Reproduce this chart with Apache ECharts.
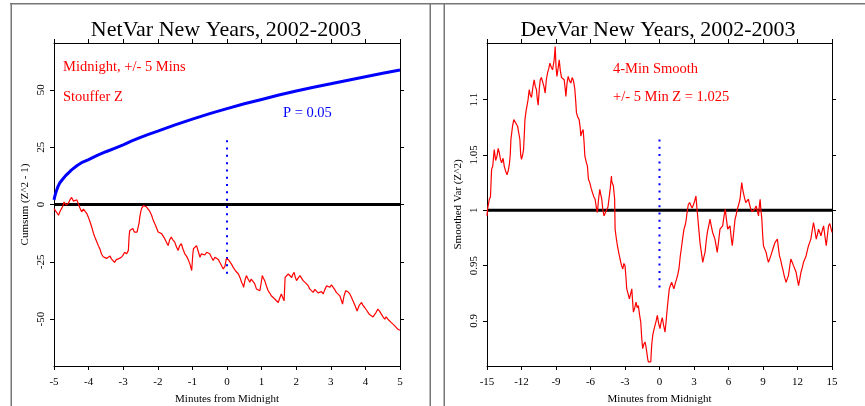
<!DOCTYPE html>
<html><head><meta charset="utf-8">
<script src="https://cdn.jsdelivr.net/npm/echarts@6/dist/echarts.min.js"></script>
<style>html,body{margin:0;padding:0;background:#fff}#c{width:865px;height:406px}</style>
</head><body><div id="c"></div>
<script>
// ---- Left panel (NetVar cumsum) ----
const leftXTicks = [-5,-4,-3,-2,-1,0,1,2,3,4,5];
const leftYTicks = [-50,-25,0,25,50];
const cumsumRed = [
[-5,-1.8],[-4.97,-1.8],[-4.92,-3.5],[-4.87,-4.7],[-4.83,-3.2],[-4.78,-2.5],[-4.74,-0.5],[-4.71,1.1],[-4.65,-0.2],[-4.59,0.4],[-4.54,2.0],[-4.49,3.1],[-4.44,1.5],[-4.39,1.1],[-4.34,2.0],[-4.30,0.4],[-4.25,-1.5],[-4.20,-3.2],[-4.15,-2.0],[-4.10,-2.5],[-4.05,-4.0],[-4.01,-5.4],[-3.96,-7.5],[-3.91,-9.8],[-3.86,-12.5],[-3.82,-14.2],[-3.77,-16.0],[-3.72,-17.9],[-3.67,-19.5],[-3.63,-21.5],[-3.58,-22.8],[-3.53,-22.2],[-3.48,-23.5],[-3.43,-23.0],[-3.38,-22.5],[-3.34,-23.7],[-3.30,-24.5],[-3.25,-25.2],[-3.20,-24.0],[-3.14,-23.7],[-3.10,-24.2],[-3.05,-23.0],[-3.00,-22.0],[-2.96,-20.8],[-2.90,-21.5],[-2.85,-20.0],[-2.83,-14.0],[-2.81,-11.3],[-2.76,-11.0],[-2.72,-10.5],[-2.68,-12.0],[-2.64,-12.7],[-2.60,-12.0],[-2.56,-11.3],[-2.54,-8.0],[-2.52,-5.4],[-2.49,-3.0],[-2.47,-1.8],[-2.42,-0.5],[-2.38,-0.3],[-2.33,-1.0],[-2.28,-1.8],[-2.23,-3.0],[-2.18,-4.7],[-2.14,-6.5],[-2.09,-8.3],[-2.04,-10.0],[-1.99,-12.0],[-1.94,-11.5],[-1.89,-12.7],[-1.85,-13.5],[-1.80,-14.9],[-1.75,-16.5],[-1.70,-17.9],[-1.66,-15.5],[-1.61,-14.2],[-1.56,-15.5],[-1.51,-16.4],[-1.46,-18.5],[-1.41,-20.0],[-1.37,-18.0],[-1.32,-17.1],[-1.27,-19.5],[-1.22,-21.5],[-1.17,-22.5],[-1.13,-23.7],[-1.07,-26.0],[-1.02,-28.8],[-0.99,-22.0],[-0.97,-19.3],[-0.92,-18.5],[-0.88,-17.9],[-0.83,-20.5],[-0.78,-23.0],[-0.74,-21.5],[-0.69,-20.8],[-0.64,-22.0],[-0.59,-20.8],[-0.54,-21.0],[-0.50,-21.5],[-0.45,-23.0],[-0.40,-24.4],[-0.35,-23.0],[-0.30,-22.2],[-0.25,-24.0],[-0.21,-25.2],[-0.16,-26.6],[-0.11,-28.1],[-0.06,-27.0],[-0.02,-23.7],[0.04,-24.0],[0.09,-24.4],[0.13,-26.0],[0.18,-27.4],[0.25,-29.0],[0.33,-30.3],[0.38,-32.0],[0.42,-33.9],[0.46,-35.0],[0.48,-36.1],[0.52,-33.0],[0.56,-31.0],[0.61,-32.5],[0.66,-33.9],[0.70,-32.5],[0.75,-31.8],[0.80,-34.5],[0.85,-36.8],[0.90,-37.0],[0.95,-37.6],[0.99,-34.0],[1.02,-31.0],[1.05,-32.0],[1.09,-33.2],[1.14,-35.5],[1.19,-37.6],[1.23,-38.5],[1.28,-39.8],[1.33,-40.5],[1.38,-41.2],[1.43,-42.0],[1.48,-42.7],[1.52,-41.0],[1.57,-39.0],[1.61,-40.5],[1.65,-42.0],[1.67,-35.0],[1.68,-31.8],[1.72,-31.0],[1.77,-30.3],[1.82,-31.0],[1.87,-31.8],[1.90,-30.5],[1.94,-29.6],[1.97,-31.5],[2.01,-33.2],[2.06,-32.0],[2.11,-31.0],[2.15,-32.0],[2.20,-33.2],[2.25,-34.0],[2.30,-34.6],[2.35,-35.5],[2.39,-36.8],[2.44,-37.5],[2.49,-38.3],[2.54,-37.0],[2.59,-37.6],[2.63,-38.5],[2.68,-39.0],[2.73,-38.0],[2.78,-39.0],[2.83,-37.0],[2.88,-35.4],[2.92,-36.0],[2.97,-36.1],[3.02,-35.0],[3.07,-35.4],[3.11,-37.0],[3.16,-38.3],[3.21,-39.0],[3.26,-39.8],[3.30,-41.5],[3.34,-43.4],[3.38,-40.0],[3.43,-37.6],[3.49,-38.0],[3.55,-39.0],[3.60,-40.5],[3.64,-42.0],[3.70,-44.0],[3.76,-46.4],[3.82,-44.0],[3.89,-42.7],[3.93,-44.0],[3.98,-44.9],[4.03,-46.0],[4.08,-47.1],[4.12,-48.0],[4.17,-48.6],[4.22,-49.0],[4.27,-49.3],[4.31,-47.0],[4.36,-45.6],[4.41,-46.5],[4.46,-47.8],[4.51,-49.0],[4.56,-50.0],[4.60,-49.0],[4.65,-50.0],[4.70,-50.8],[4.75,-51.5],[4.80,-52.0],[4.85,-52.9],[4.90,-53.5],[4.94,-54.4],[5.0,-54.8]
];
const envelopeBlue = [
[-5,2],[-4.97,4],[-4.93,6],[-4.88,8],[-4.83,9.5],[-4.75,11],[-4.67,12.5],[-4.58,13.8],[-4.5,15],[-4.33,17],[-4.17,18.5],[-4,19.6],[-3.75,21.4],[-3.5,23],[-3.25,24.5],[-3,26],[-2.75,27.7],[-2.5,29.3],[-2.25,30.7],[-2,32],[-1.5,34.7],[-1,37.2],[-0.5,39.6],[0,41.8],[0.5,43.9],[1,45.8],[1.5,47.7],[2,49.5],[2.5,51.1],[3,52.6],[3.5,54.2],[4,55.7],[4.5,57.2],[5,58.6]
];
const leftZeroLine = [[-5,0],[5,0]];
const leftMidnightMarker = [[0,28],[0,-32]];

// ---- Right panel (DevVar smoothed) ----
const rightXTicks = [-15,-12,-9,-6,-3,0,3,6,9,12,15];
const rightYTicks = [0.9,0.95,1,1.05,1.1];
const smoothRed = [
[-15,0.995],[-14.95,1.001],[-14.8,1.010],[-14.7,1.012],[-14.6,1.037],[-14.5,1.040],[-14.37,1.055],[-14.25,1.045],[-14.13,1.049],[-14.03,1.056],[-13.93,1.052],[-13.83,1.046],[-13.73,1.043],[-13.6,1.047],[-13.5,1.040],[-13.4,1.036],[-13.26,1.032],[-13.15,1.036],[-13.06,1.041],[-12.98,1.050],[-12.92,1.064],[-12.85,1.070],[-12.78,1.076],[-12.67,1.082],[-12.57,1.082],[-12.45,1.078],[-12.34,1.076],[-12.24,1.070],[-12.14,1.064],[-12.07,1.050],[-12.0,1.046],[-11.9,1.050],[-11.82,1.055],[-11.75,1.070],[-11.7,1.082],[-11.6,1.090],[-11.53,1.094],[-11.43,1.100],[-11.33,1.109],[-11.23,1.104],[-11.13,1.102],[-11.0,1.112],[-10.9,1.118],[-10.8,1.112],[-10.7,1.109],[-10.62,1.100],[-10.55,1.095],[-10.45,1.110],[-10.37,1.118],[-10.27,1.120],[-10.17,1.121],[-10.05,1.112],[-9.94,1.106],[-9.84,1.118],[-9.74,1.124],[-9.63,1.128],[-9.53,1.133],[-9.4,1.129],[-9.3,1.127],[-9.22,1.132],[-9.16,1.136],[-9.1,1.144],[-9.07,1.148],[-9.0,1.130],[-8.92,1.121],[-8.82,1.128],[-8.72,1.136],[-8.62,1.126],[-8.52,1.120],[-8.4,1.119],[-8.29,1.118],[-8.2,1.110],[-8.14,1.103],[-8.04,1.115],[-7.94,1.121],[-7.82,1.117],[-7.71,1.115],[-7.6,1.120],[-7.51,1.118],[-7.43,1.114],[-7.36,1.109],[-7.28,1.098],[-7.22,1.088],[-7.1,1.084],[-6.99,1.082],[-6.9,1.075],[-6.84,1.067],[-6.74,1.071],[-6.64,1.073],[-6.55,1.060],[-6.49,1.049],[-6.38,1.044],[-6.27,1.040],[-6.18,1.028],[-6.06,1.025],[-5.95,1.020],[-5.83,1.016],[-5.7,1.012],[-5.6,1.010],[-5.5,1.003],[-5.4,0.998],[-5.3,1.010],[-5.19,1.019],[-5.1,1.014],[-5.02,1.010],[-4.92,1.000],[-4.82,0.995],[-4.7,0.998],[-4.58,1.001],[-4.48,1.003],[-4.38,1.004],[-4.28,1.020],[-4.18,1.031],[-4.15,1.026],[-4.01,1.022],[-3.9,1.010],[-3.86,0.983],[-3.76,0.975],[-3.66,0.968],[-3.55,0.962],[-3.43,0.956],[-3.3,0.950],[-3.19,0.947],[-3.1,0.952],[-3.0,0.950],[-2.92,0.940],[-2.85,0.929],[-2.74,0.925],[-2.62,0.920],[-2.5,0.925],[-2.41,0.929],[-2.34,0.918],[-2.27,0.908],[-2.15,0.912],[-2.04,0.917],[-1.94,0.912],[-1.84,0.914],[-1.74,0.906],[-1.63,0.899],[-1.55,0.885],[-1.46,0.875],[-1.36,0.879],[-1.26,0.881],[-1.18,0.877],[-1.11,0.872],[-1.03,0.866],[-0.97,0.863],[-0.86,0.862],[-0.76,0.863],[-0.68,0.878],[-0.59,0.887],[-0.49,0.892],[-0.39,0.896],[-0.29,0.900],[-0.19,0.905],[-0.08,0.898],[0.04,0.893],[0.14,0.899],[0.24,0.903],[0.36,0.896],[0.48,0.890],[0.58,0.900],[0.67,0.911],[0.76,0.920],[0.85,0.929],[0.95,0.932],[1.06,0.935],[1.15,0.932],[1.25,0.929],[1.37,0.934],[1.49,0.938],[1.59,0.942],[1.69,0.947],[1.8,0.958],[1.93,0.968],[2.03,0.976],[2.13,0.983],[2.22,0.986],[2.30,0.990],[2.4,0.998],[2.5,1.005],[2.62,1.007],[2.74,1.004],[2.84,1.002],[2.94,1.001],[3.05,1.008],[3.17,1.013],[3.23,1.005],[3.29,0.998],[3.4,0.985],[3.52,0.971],[3.64,0.962],[3.76,0.953],[3.86,0.958],[3.96,0.962],[4.06,0.972],[4.16,0.980],[4.28,0.986],[4.39,0.992],[4.5,0.986],[4.62,0.980],[4.72,0.977],[4.82,0.974],[4.92,0.968],[5.02,0.962],[5.14,0.972],[5.26,0.983],[5.38,0.984],[5.49,0.986],[5.6,0.994],[5.72,1.001],[5.82,0.992],[5.93,0.983],[6.03,0.984],[6.13,0.986],[6.23,0.976],[6.33,0.968],[6.45,0.980],[6.57,0.992],[6.67,0.996],[6.77,1.001],[6.88,1.005],[7.0,1.010],[7.08,1.018],[7.15,1.025],[7.22,1.020],[7.29,1.016],[7.4,1.011],[7.5,1.007],[7.62,1.008],[7.73,1.010],[7.84,1.005],[7.94,1.001],[8.05,0.999],[8.17,0.998],[8.28,1.001],[8.4,1.004],[8.5,1.000],[8.61,0.995],[8.68,1.004],[8.75,1.010],[8.82,1.000],[8.9,0.992],[8.97,0.978],[9.04,0.968],[9.15,0.965],[9.27,0.962],[9.37,0.957],[9.47,0.953],[9.58,0.956],[9.68,0.959],[9.77,0.962],[9.86,0.965],[9.95,0.968],[10.05,0.971],[10.15,0.972],[10.25,0.974],[10.34,0.966],[10.43,0.959],[10.54,0.955],[10.64,0.950],[10.74,0.946],[10.84,0.941],[10.92,0.938],[11.01,0.935],[11.11,0.938],[11.21,0.941],[11.32,0.949],[11.42,0.956],[11.54,0.953],[11.65,0.950],[11.77,0.947],[11.88,0.944],[11.98,0.938],[12.09,0.932],[12.2,0.938],[12.3,0.944],[12.41,0.948],[12.52,0.953],[12.64,0.956],[12.75,0.959],[12.86,0.964],[12.96,0.968],[13.06,0.971],[13.16,0.974],[13.28,0.982],[13.39,0.989],[13.51,0.982],[13.63,0.974],[13.73,0.978],[13.83,0.983],[13.94,0.980],[14.04,0.977],[14.16,0.982],[14.27,0.986],[14.38,0.977],[14.5,0.968],[14.6,0.977],[14.7,0.986],[14.81,0.988],[14.91,0.989],[15.0,0.980]
];
const rightOneLine = [[-15,1],[15,1]];
const rightMidnightMarker = [[0,1.064],[0,0.930]];

const titles = ['NetVar New Years, 2002-2003','DevVar New Years, 2002-2003'];

const SERIF = '"Liberation Serif","DejaVu Serif",serif';
const chart = echarts.init(document.getElementById('c'), null, {renderer:'canvas'});

function xAxisPair(gi, min, max, interval){
  const base = {
    gridIndex: gi, type:'value', min:min, max:max, interval:interval,
    axisLine:{show:true, onZero:false, lineStyle:{color:'#000', width:1}},
    axisTick:{show:true, inside:false, length:4, lineStyle:{color:'#000'}},
    splitLine:{show:false}
  };
  return [
    Object.assign({}, base, {position:'bottom',
      axisLabel:{show:true, color:'#000', fontFamily:SERIF, fontSize:11, margin:11},
      name:'Minutes from Midnight', nameLocation:'middle', nameGap:28,
      nameTextStyle:{color:'#000', fontFamily:SERIF, fontSize:11}}),
    Object.assign({}, base, {position:'top', axisLabel:{show:false}})
  ];
}
function yAxisPair(gi, min, max, ticks, name){
  const base = {
    gridIndex: gi, type:'value', min:min, max:max,
    axisLine:{show:true, onZero:false, lineStyle:{color:'#000', width:1}},
    axisTick:{show:true, inside:false, length:4, lineStyle:{color:'#000'}, customValues:ticks},
    splitLine:{show:false}
  };
  return [
    Object.assign({}, base, {position:'left',
      axisLabel:{show:true, customValues:ticks, rotate:90, color:'#000', fontFamily:SERIF, fontSize:11, margin:7},
      name:name, nameLocation:'middle', nameGap:23,
      nameTextStyle:{color:'#000', fontFamily:SERIF, fontSize:11}}),
    Object.assign({}, base, {position:'right', axisLabel:{show:false}})
  ];
}

const xs = [...xAxisPair(0,-5,5,1), ...xAxisPair(1,-15,15,3)];
const ys = [...yAxisPair(0,-70.4,70.4,leftYTicks,'Cumsum (Z^2 - 1)'), ...yAxisPair(1,0.8593,1.1512,rightYTicks,'Smoothed Var (Z^2)')];

function line(data, xi, yi, color, width, extra){
  return Object.assign({type:'line', data:data, xAxisIndex:xi, yAxisIndex:yi, showSymbol:false, symbol:'none',
    animation:false, silent:true, lineStyle:{color:color, width:width}}, extra||{});
}

const option = {
  backgroundColor:'#fff',
  animation:false,
  title:[
    {text:titles[0], left:221, top:14, textAlign:'center', textStyle:{fontFamily:SERIF, fontSize:22, fontWeight:'normal', color:'#000'}},
    {text:titles[1], left:653, top:14, textAlign:'center', textStyle:{fontFamily:SERIF, fontSize:22, fontWeight:'normal', color:'#000'}}
  ],
  grid:[
    {left:54, top:43, width:346, height:323, outerBoundsMode:'none', containLabel:false},
    {left:487, top:43, width:345, height:323, outerBoundsMode:'none', containLabel:false}
  ],
  xAxis: xs,
  yAxis: ys,
  series:[
    line(leftMidnightMarker, 0, 0, '#0000ff', 2, {lineStyle:{color:'#0000ff', width:2, type:[2,5.3]}, z:1}),
    line(leftZeroLine, 0, 0, '#000', 3, {z:2}),
    line(envelopeBlue, 0, 0, '#0000ff', 3, {z:3}),
    line(cumsumRed, 0, 0, '#ff0000', 1.2, {z:4}),
    line(rightMidnightMarker, 2, 2, '#0000ff', 2, {lineStyle:{color:'#0000ff', width:2, type:[2,5.3]}, z:1}),
    line(rightOneLine, 2, 2, '#000', 3, {z:2}),
    line(smoothRed, 2, 2, '#ff0000', 1.2, {z:4})
  ],
  graphic:[
    {type:'rect', shape:{x:10, y:3, width:855, height:1.5}, style:{fill:'#777'}, silent:true},
    {type:'rect', shape:{x:10.5, y:3, width:1.5, height:403}, style:{fill:'#777'}, silent:true},
    {type:'rect', shape:{x:429.5, y:3, width:1.5, height:403}, style:{fill:'#777'}, silent:true},
    {type:'rect', shape:{x:443.5, y:3, width:1.5, height:403}, style:{fill:'#777'}, silent:true},
    {type:'text', left:63, top:60, style:{text:'Midnight, +/- 5 Mins', fill:'#ff0000', font:'14.5px '+SERIF}},
    {type:'text', left:63, top:90, style:{text:'Stouffer Z', fill:'#ff0000', font:'14.5px '+SERIF}},
    {type:'text', left:283, top:106, style:{text:'P = 0.05', fill:'#0000ff', font:'14.5px '+SERIF}},
    {type:'text', left:613, top:62, style:{text:'4-Min Smooth', fill:'#ff0000', font:'14.5px '+SERIF}},
    {type:'text', left:613, top:90, style:{text:'+/- 5 Min Z = 1.025', fill:'#ff0000', font:'14.5px '+SERIF}}
  ]
};
chart.setOption(option);
</script>
</body></html>
